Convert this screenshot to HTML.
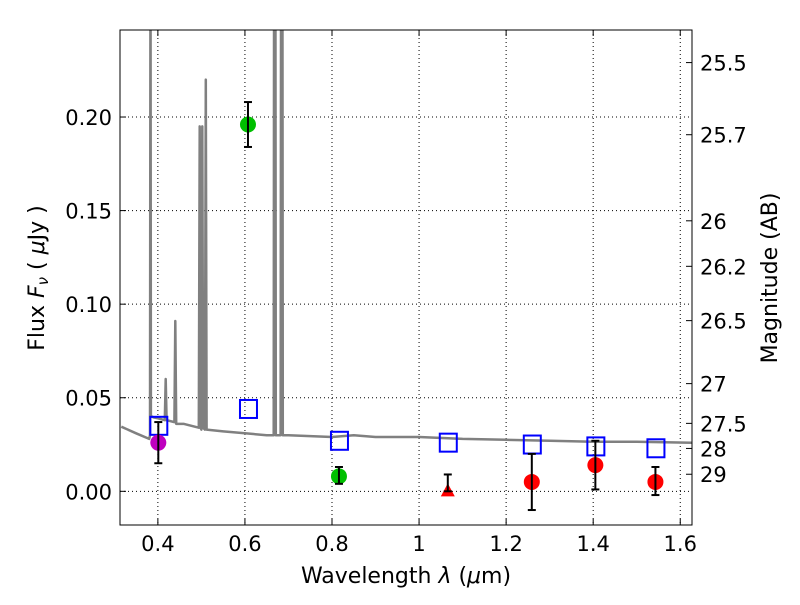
<!DOCTYPE html>
<html><head><meta charset="utf-8"><style>
body{margin:0;background:#fff;}
svg text{font-family:"DejaVu Sans","Liberation Sans",sans-serif;fill:#000;}
</style></head><body>
<svg id="chart" width="800" height="600">
<rect x="0" y="0" width="800" height="600" fill="#fff"/>
<defs><clipPath id="clip"><rect x="120" y="30" width="572" height="495"/></clipPath></defs>
<g id="grid"></g>
<g id="spec" clip-path="url(#clip)"></g>
<g id="marks" clip-path="url(#clip)"></g>
<rect x="120" y="30" width="572" height="495" fill="none" stroke="#000" stroke-width="1"/>
<g id="axes"></g>
<text x="406" y="583" font-size="22" text-anchor="middle">Wavelength  <tspan font-style="italic">λ</tspan> (<tspan font-style="italic">μ</tspan>m)</text>
<text transform="translate(44,278) rotate(-90)" font-size="22" text-anchor="middle">Flux  <tspan font-style="italic">F<tspan font-size="15" dy="4">ν</tspan></tspan><tspan dy="-4">  ( </tspan><tspan font-style="italic">μ</tspan>Jy )</text>
<text transform="translate(777,278) rotate(-90)" font-size="22" text-anchor="middle">Magnitude (AB)</text>
</svg>
<script>
const xTicks=[0.4,0.6,0.8,1.0,1.2,1.4,1.6];
const xTickLabels=["0.4","0.6","0.8","1","1.2","1.4","1.6"];
const yTicks=[0,0.05,0.10,0.15,0.20];
const yTickLabels=["0.00","0.05","0.10","0.15","0.20"];
const magTicks=[25.5,25.7,26,26.2,26.5,27,27.5,28,29];
const specWave=[0.316,0.35,0.38,0.382,0.383,0.384,0.386,0.39,0.40,0.416,0.418,0.420,0.438,0.440,0.442,0.46,0.494,0.496,0.498,0.500,0.502,0.504,0.508,0.510,0.512,0.55,0.60,0.65,0.666,0.667,0.670,0.671,0.682,0.683,0.686,0.687,0.70,0.80,0.85,0.90,0.95,1.0,1.1,1.2,1.3,1.4,1.5,1.627];
const specFlux=[0.0345,0.031,0.028,0.03,0.30,0.04,0.04,0.0395,0.039,0.038,0.060,0.038,0.037,0.091,0.036,0.036,0.034,0.195,0.034,0.033,0.195,0.034,0.033,0.22,0.033,0.032,0.031,0.030,0.030,0.30,0.30,0.030,0.030,0.30,0.30,0.030,0.030,0.029,0.030,0.029,0.029,0.029,0.028,0.0275,0.027,0.0265,0.0265,0.026];
const obsWave=[0.401,0.607,0.816,1.066,1.259,1.405,1.543];
const obsFlux=[0.026,0.196,0.008,0.0,0.005,0.014,0.005];
const obsLo=[0.015,0.184,0.004,0.0,-0.010,0.001,-0.002];
const obsHi=[0.037,0.208,0.013,0.009,0.020,0.027,0.013];
const obsColor=["#bf00bf","#00bf00","#00bf00","#ff0000","#ff0000","#ff0000","#ff0000"];
const obsUpper=[false,false,false,true,false,false,false];
const modelFlux=[0.035,0.044,0.027,0.026,0.025,0.024,0.023];

const X0=120,X1=692,Y0=525,Y1=30,xmin=0.313,xmax=1.627,ymin=-0.018,ymax=0.2465;
const sx=v=>X0+(v-xmin)/(xmax-xmin)*(X1-X0);
const sy=v=>Y0-(v-ymin)/(ymax-ymin)*(Y0-Y1);
const NS="http://www.w3.org/2000/svg";
function mk(tag,attrs,parent){const e=document.createElementNS(NS,tag);for(const k in attrs)e.setAttribute(k,attrs[k]);parent.appendChild(e);return e;}
const grid=document.getElementById('grid'),axes=document.getElementById('axes'),spec=document.getElementById('spec'),marks=document.getElementById('marks');
xTicks.forEach((t,i)=>{const x=sx(t);
 const g=mk('line',{x1:x,x2:x,y1:Y1,y2:Y0,stroke:'#000','stroke-dasharray':'1,3','stroke-width':1},grid);
 
 mk('line',{x1:x,x2:x,y1:Y0,y2:Y0-6,stroke:'#000'},axes);mk('line',{x1:x,x2:x,y1:Y1,y2:Y1+6,stroke:'#000'},axes);
 const tx=mk('text',{x:x,y:Y0+26,'font-size':21,'text-anchor':'middle'},axes);tx.textContent=xTickLabels[i];
 });
yTicks.forEach((t,i)=>{const y=sy(t);
 const g=mk('line',{x1:X0,x2:X1,y1:y,y2:y,stroke:'#000','stroke-dasharray':'1,3','stroke-width':1},grid);
 
 mk('line',{x1:X0,x2:X0+6,y1:y,y2:y,stroke:'#000'},axes);
 const tx=mk('text',{x:X0-8,y:y+8,'font-size':21,'text-anchor':'end'},axes);tx.textContent=yTickLabels[i];
 });
magTicks.forEach(m=>{const f=Math.pow(10,(23.9-m)/2.5);const y=sy(f);
 mk('line',{x1:X1,x2:X1-6,y1:y,y2:y,stroke:'#000'},axes);
 const tx=mk('text',{x:X1+8,y:y+8,'font-size':21},axes);tx.textContent=String(m);
 });
const pts=specWave.map((w,i)=>sx(w).toFixed(1)+','+sy(specFlux[i]).toFixed(1)).join(' ');
const pl=mk('polyline',{points:pts,fill:'none',stroke:'#808080','stroke-width':2.5,'stroke-linejoin':'round'},spec);

modelFlux.forEach((f,i)=>{const x=sx(obsWave[i]),y=sy(f);
 const r=mk('rect',{x:x-8,y:y-9,width:17,height:18,fill:'none',stroke:'#0000ff','stroke-width':2},marks);
 });
obsWave.forEach((w,i)=>{const x=sx(w),y=sy(obsFlux[i]);
 if(obsUpper[i]){const t=mk('polygon',{points:`${x-7},${y+5} ${x+7},${y+5} ${x},${y-8}`,fill:obsColor[i]},marks);
  }
 else{const c=mk('circle',{cx:x,cy:y,r:8,fill:obsColor[i]},marks);
  }
 const eb=mk('g',{stroke:'#000','stroke-width':2},marks);
 
 const ylo=sy(obsLo[i]),yhi=sy(obsHi[i]);
 mk('line',{x1:x,x2:x,y1:ylo,y2:yhi},eb);mk('line',{x1:x-4,x2:x+4,y1:ylo,y2:ylo},eb);mk('line',{x1:x-4,x2:x+4,y1:yhi,y2:yhi},eb);});
</script>
</body></html>
